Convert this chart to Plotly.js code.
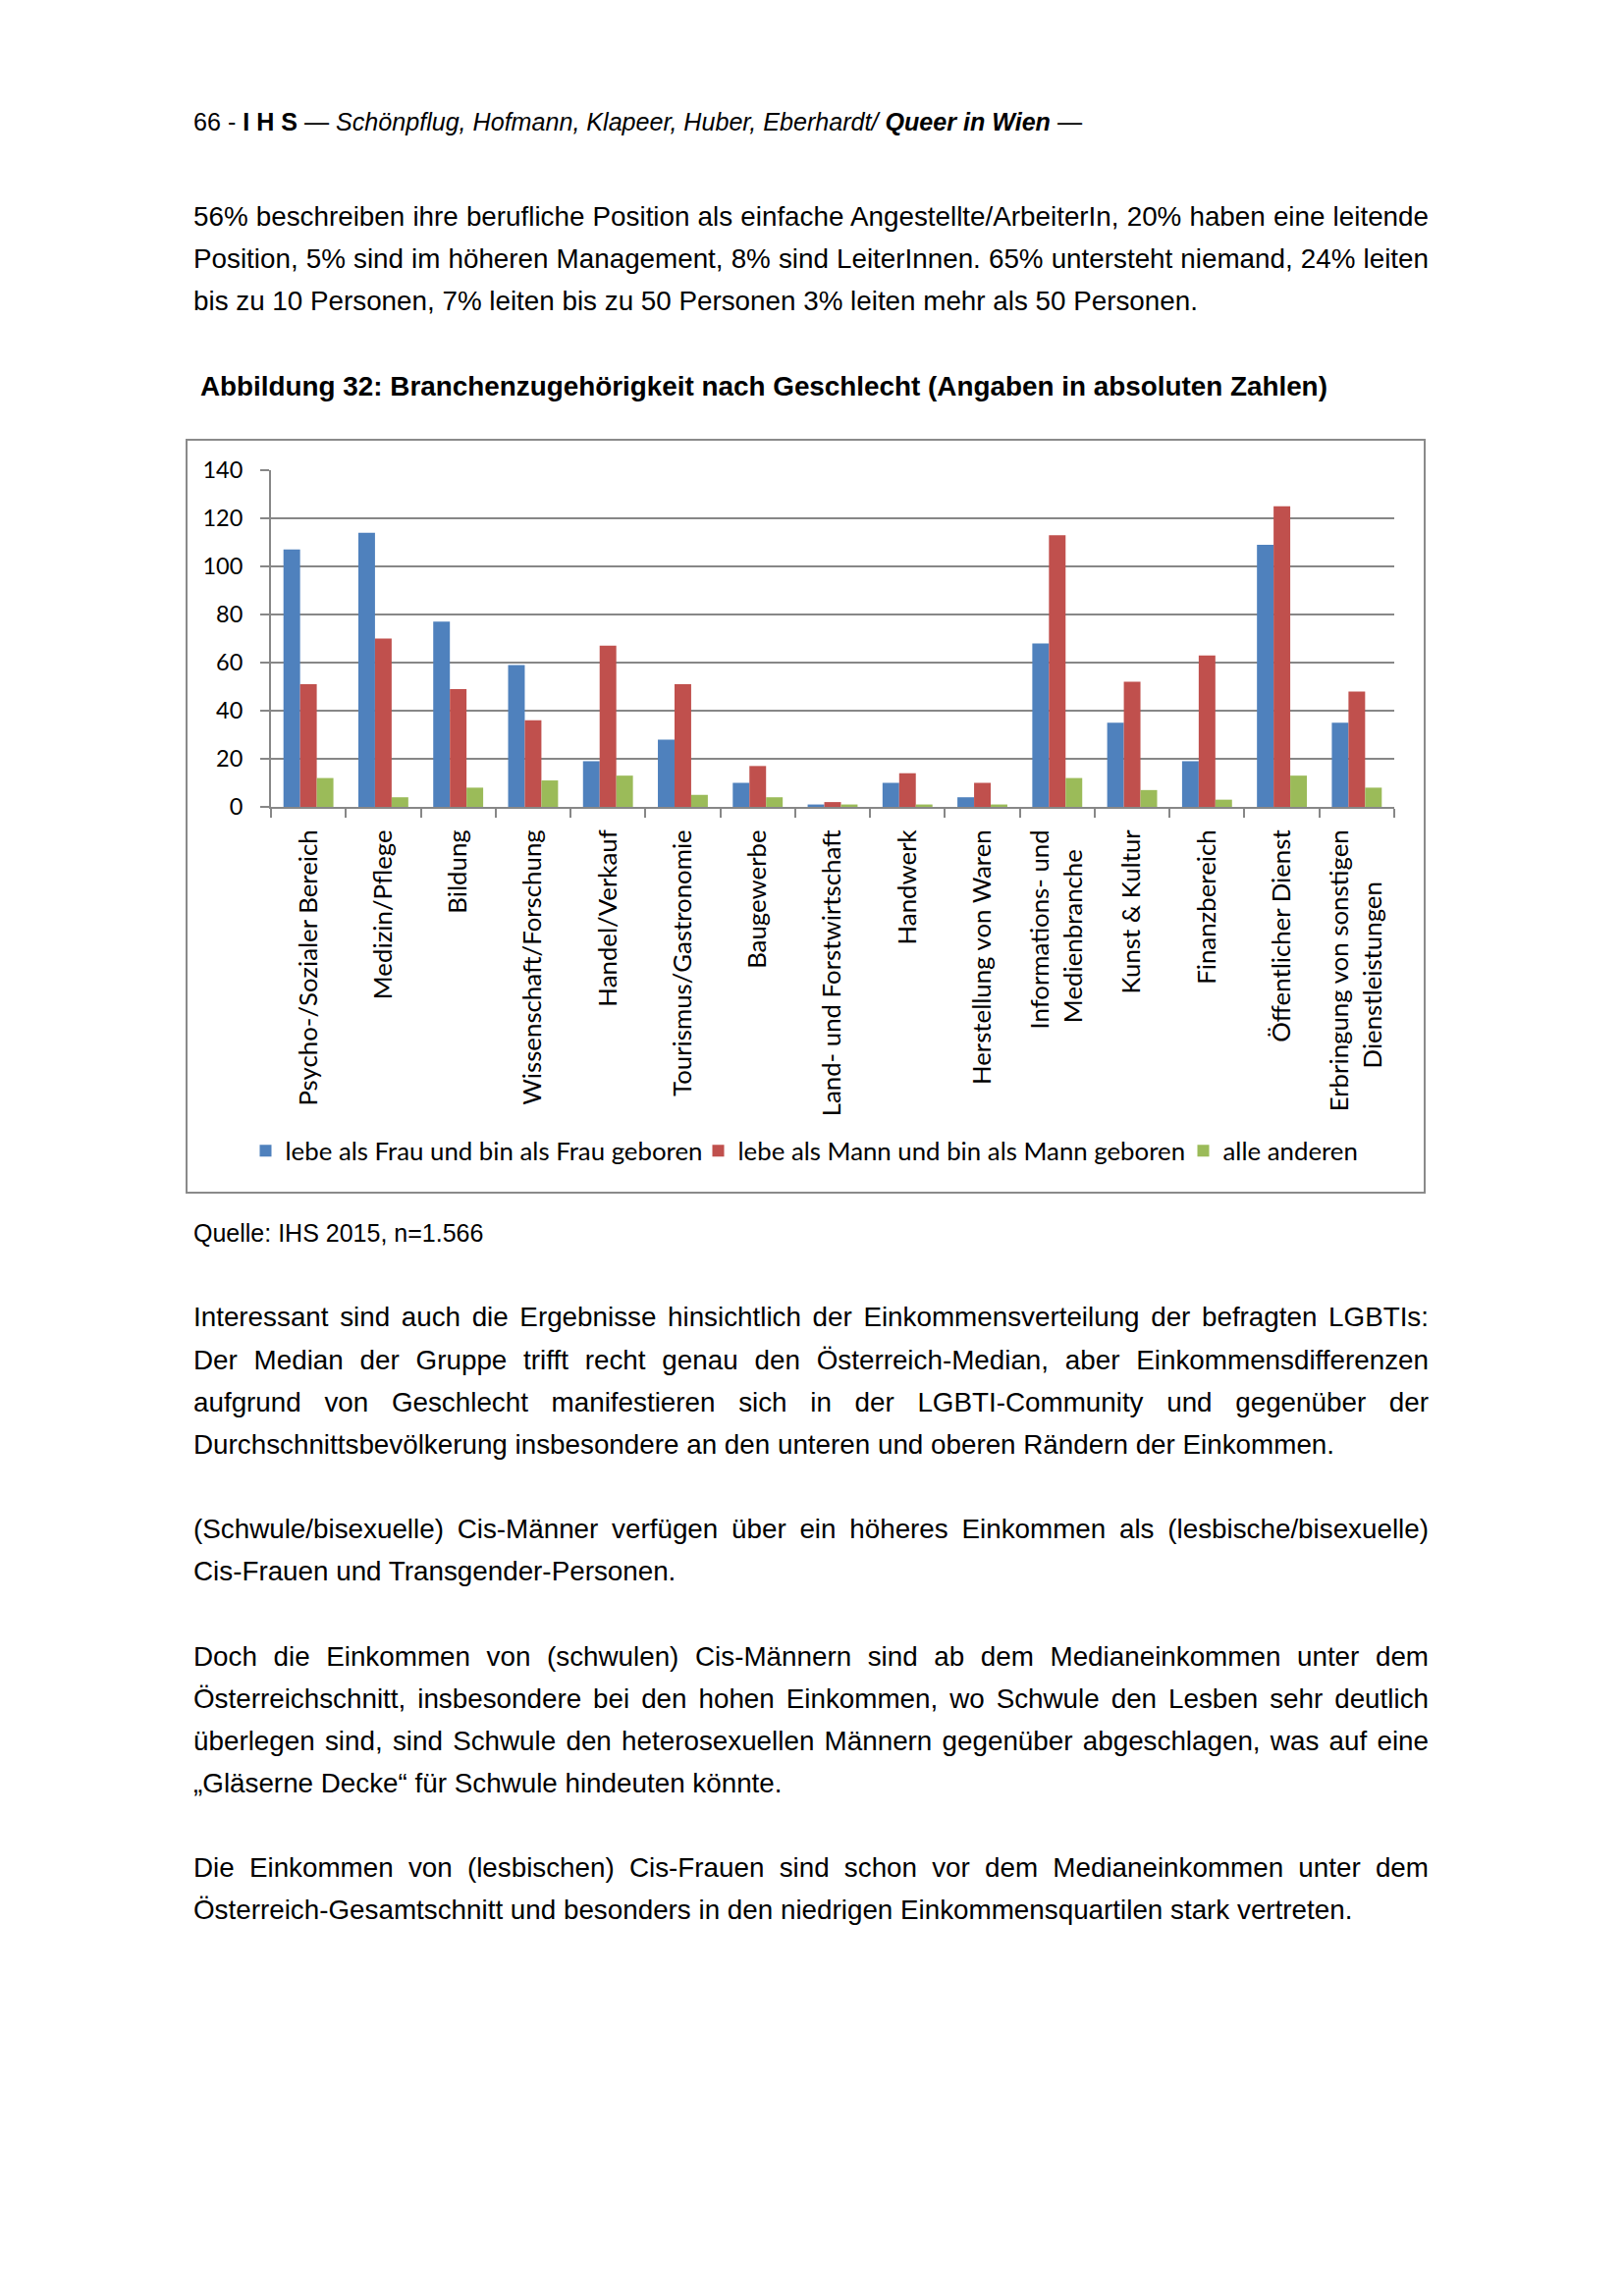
<!DOCTYPE html>
<html>
<head>
<meta charset="utf-8">
<script src="https://cdn.plot.ly/plotly-3.0.1.min.js"></script>
<style>
  html, body { margin:0; padding:0; background:#fff; }
  body { width:1654px; height:2339px; position:relative; overflow:hidden;
         font-family:"Liberation Sans", Arial, sans-serif; color:#000; }
  .abs { position:absolute; left:197px; width:1258px; white-space:nowrap; }
  .ln { font-size:27.8px; line-height:43.15px; height:43.15px; white-space:nowrap;
        text-align:justify; text-align-last:justify; }
  .ln.last { text-align:left; text-align-last:left; }
  .para { margin-bottom:43.15px; }
  #chartbox { position:absolute; left:189px; top:447px; width:1263px; height:769px;
              box-sizing:border-box; border:2px solid #8a8a8a; pointer-events:none; }
  #chart { position:absolute; left:190px; top:448px; width:1261px; height:767px; }
</style>
</head>
<body>

<div class="abs" style="top:108.7px; font-size:25.1px; line-height:30px;">66 - <b>I H S</b> — <i>Schönpflug, Hofmann, Klapeer, Huber, Eberhardt/ <b>Queer in Wien</b></i> —</div>

<div class="abs" style="top:199px; white-space:normal;">
  <div class="ln">56% beschreiben ihre berufliche Position als einfache Angestellte/ArbeiterIn, 20% haben eine leitende</div>
  <div class="ln">Position, 5% sind im höheren Management, 8% sind LeiterInnen. 65% untersteht niemand, 24% leiten</div>
  <div class="ln last">bis zu 10 Personen, 7% leiten bis zu 50 Personen 3% leiten mehr als 50 Personen.</div>
</div>

<div class="abs" style="left:204px; top:376.5px; font-size:27.85px; line-height:34px; font-weight:bold;">Abbildung 32: Branchenzugehörigkeit nach Geschlecht (Angaben in absoluten Zahlen)</div>

<div id="chart"></div>
<div id="chartbox"></div>

<div class="abs" style="top:1241.3px; font-size:25px; line-height:30px;">Quelle: IHS 2015, n=1.566</div>

<div class="abs" style="top:1320.4px; white-space:normal;">
  <div class="para">
    <div class="ln">Interessant sind auch die Ergebnisse hinsichtlich der Einkommensverteilung der befragten LGBTIs:</div>
    <div class="ln">Der Median der Gruppe trifft recht genau den Österreich-Median, aber Einkommensdifferenzen</div>
    <div class="ln">aufgrund von Geschlecht manifestieren sich in der LGBTI-Community und gegenüber der</div>
    <div class="ln last">Durchschnittsbevölkerung insbesondere an den unteren und oberen Rändern der Einkommen.</div>
  </div>
  <div class="para">
    <div class="ln">(Schwule/bisexuelle) Cis-Männer verfügen über ein höheres Einkommen als (lesbische/bisexuelle)</div>
    <div class="ln last">Cis-Frauen und Transgender-Personen.</div>
  </div>
  <div class="para">
    <div class="ln">Doch die Einkommen von (schwulen) Cis-Männern sind ab dem Medianeinkommen unter dem</div>
    <div class="ln">Österreichschnitt, insbesondere bei den hohen Einkommen, wo Schwule den Lesben sehr deutlich</div>
    <div class="ln">überlegen sind, sind Schwule den heterosexuellen Männern gegenüber abgeschlagen, was auf eine</div>
    <div class="ln last">„Gläserne Decke“ für Schwule hindeuten könnte.</div>
  </div>
  <div class="para">
    <div class="ln">Die Einkommen von (lesbischen) Cis-Frauen sind schon vor dem Medianeinkommen unter dem</div>
    <div class="ln last">Österreich-Gesamtschnitt und besonders in den niedrigen Einkommensquartilen stark vertreten.</div>
  </div>
</div>

<script>
// ---- data ----
var categories = [
  "Psycho-/Sozialer Bereich",
  "Medizin/Pflege",
  "Bildung",
  "Wissenschaft/Forschung",
  "Handel/Verkauf",
  "Tourismus/Gastronomie",
  "Baugewerbe",
  "Land- und Forstwirtschaft",
  "Handwerk",
  "Herstellung von Waren",
  "Informations- und Medienbranche",
  "Kunst & Kultur",
  "Finanzbereich",
  "Öffentlicher Dienst",
  "Erbringung von sonstigen Dienstleistungen"
];
// tick labels as printed (two-line labels centred line against line)
var NB = "\u00A0";
var tickLabels = [
  "Psycho-/Sozialer Bereich",
  "Medizin/Pflege",
  "Bildung",
  "Wissenschaft/Forschung",
  "Handel/Verkauf",
  "Tourismus/Gastronomie",
  "Baugewerbe",
  "Land- und Forstwirtschaft",
  "Handwerk",
  "Herstellung von Waren",
  "Informations- und<br>Medienbranche" + NB.repeat(3),
  "Kunst & Kultur",
  "Finanzbereich",
  "Öffentlicher Dienst",
  "Erbringung von sonstigen<br>Dienstleistungen" + NB.repeat(8)
];
var seriesNames = [
  "lebe als Frau und bin als Frau geboren",
  "lebe als Mann und bin als Mann geboren",
  "alle anderen"
];
var frau   = [107, 114, 77, 59, 19, 28, 10, 1, 10, 4, 68, 35, 19, 109, 35];
var mann   = [51, 70, 49, 36, 67, 51, 17, 2, 14, 10, 113, 52, 63, 125, 48];
var andere = [12, 4, 8, 11, 13, 5, 4, 1, 1, 1, 12, 7, 3, 13, 8];
var yTicks = [0, 20, 40, 60, 80, 100, 120, 140];

var colors = ["#4F81BD", "#C0504D", "#9BBB59"];
var values = [frau, mann, andere];
var legendIds = ["legend", "legend2", "legend3"];

var traces = values.map(function (v, i) {
  return {
    type: "bar",
    name: seriesNames[i],
    x: categories,
    y: v,
    legend: legendIds[i],
    marker: { color: colors[i], line: { width: 0 } }
  };
});

var W = 1261, H = 767;
var gridCol = "#878787";
var legendFont = { family: "Lato, sans-serif", size: 25.8, color: "#000" };
// legend left edges (container px) so that texts start where the reference texts start
var legendLeft = [60.5, 521.5, 1015.5];
function mkLegend(i) {
  return {
    orientation: "h",
    xref: "container",
    yref: "container",
    x: legendLeft[i] / W,
    xanchor: "left",
    y: 42.5 / H,
    yanchor: "middle",
    font: legendFont,
    itemclick: false,
    itemdoubleclick: false,
    bgcolor: "rgba(0,0,0,0)",
    borderwidth: 0
  };
}

var layout = {
  width: W,
  height: H,
  autosize: false,
  paper_bgcolor: "rgba(0,0,0,0)",
  plot_bgcolor: "#fff",
  margin: { l: 86, r: 31, t: 31, b: 392.7, pad: 0 },
  barmode: "group",
  bargap: 0.333,
  bargroupgap: 0,
  font: { family: "Lato, sans-serif", color: "#000" },
  xaxis: {
    type: "category",
    categoryorder: "array",
    categoryarray: categories,
    tickmode: "array",
    tickvals: categories,
    ticktext: tickLabels,
    tickson: "boundaries",
    ticks: "outside",
    ticklen: 9,
    tickwidth: 2,
    tickcolor: gridCol,
    tickangle: -90,
    tickfont: { family: "Lato, sans-serif", size: 25.8, color: "#000" },
    ticklabelstandoff: 11,
    showline: true,
    linecolor: gridCol,
    linewidth: 2,
    showgrid: false,
    zeroline: false,
    automargin: false,
    fixedrange: true
  },
  yaxis: {
    range: [0, 140],
    tickmode: "array",
    tickvals: yTicks,
    ticktext: yTicks.map(String),
    ticks: "outside",
    ticklen: 9,
    tickwidth: 2,
    tickcolor: gridCol,
    tickfont: { family: "Lato, sans-serif", size: 23.5, color: "#000" },
    ticklabelstandoff: 13,
    showline: true,
    linecolor: gridCol,
    linewidth: 2,
    showgrid: true,
    gridcolor: gridCol,
    gridwidth: 2,
    zeroline: false,
    automargin: false,
    fixedrange: true
  },
  showlegend: true,
  legend: mkLegend(0),
  legend2: mkLegend(1),
  legend3: mkLegend(2)
};

Plotly.newPlot("chart", traces, layout, { displayModeBar: false, staticPlot: true });
</script>
</body>
</html>
